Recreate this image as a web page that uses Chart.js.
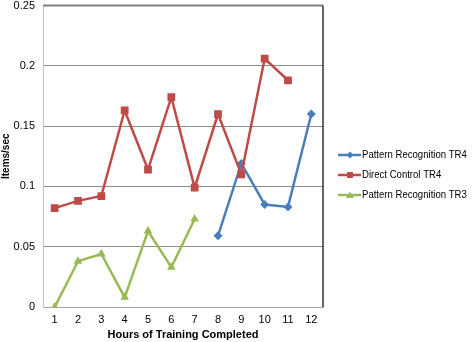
<!DOCTYPE html>
<html>
<head>
<meta charset="utf-8">
<script src="https://cdn.jsdelivr.net/npm/chart.js@4/dist/chart.umd.min.js"></script>
<style>
  html, body { margin: 0; padding: 0; background: #fff; }
  #wrap { width: 473px; height: 342px; position: relative; }
</style>
</head>
<body>
<div id="wrap"><canvas id="c"></canvas></div>
<script>
// data
const hours = ['1', '2', '3', '4', '5', '6', '7', '8', '9', '10', '11', '12'];
const patternTR4 = [null, null, null, null, null, null, null, 0.059, 0.119, 0.085, 0.083, 0.160];
const directTR4 = [0.082, 0.088, 0.092, 0.163, 0.114, 0.174, 0.099, 0.160, 0.110, 0.206, 0.188, null];
const patternTR3 = [0.000, 0.038, 0.044, 0.008, 0.063, 0.033, 0.073, null, null, null, null, null];
const seriesNames = ['Pattern Recognition TR4', 'Direct Control TR4', 'Pattern Recognition TR3'];

const FONT = '"Liberation Sans", Arial, sans-serif';
const BLUE = '#4a7ebb', RED = '#be4b48', GREEN = '#98b954';

// plot border + side legend
const frame = {
  id: 'frame',
  afterDatasetsDraw(chart) {
    const { ctx, chartArea: a } = chart;
    ctx.save();
    ctx.strokeStyle = '#808080';
    ctx.lineWidth = 2;
    ctx.beginPath();
    ctx.moveTo(a.left, a.top); ctx.lineTo(a.right, a.top);
    ctx.stroke();
    ctx.strokeStyle = '#333';
    ctx.lineWidth = 1.5;
    ctx.beginPath();
    ctx.moveTo(a.right, a.top); ctx.lineTo(a.right, a.bottom);
    ctx.stroke();
    ctx.restore();
  },
  afterDraw(chart) {
    const { ctx } = chart;
    ctx.save();
    ctx.font = '11px ' + FONT;
    ctx.textBaseline = 'middle';
    chart.data.datasets.forEach((ds, i) => {
      const y = 155 + i * 20;
      ctx.strokeStyle = ds.borderColor;
      ctx.lineWidth = 2.5;
      ctx.beginPath();
      ctx.moveTo(338, y); ctx.lineTo(361, y);
      ctx.stroke();
      ctx.fillStyle = ds.borderColor;
      const x = 350;
      ctx.beginPath();
      if (ds.pointStyle === 'rectRot') {
        ctx.moveTo(x, y - 3.5); ctx.lineTo(x + 3.5, y); ctx.lineTo(x, y + 3.5); ctx.lineTo(x - 3.5, y);
      } else if (ds.pointStyle === 'rect') {
        ctx.rect(x - 3, y - 3, 6, 6);
      } else {
        ctx.moveTo(x, y - 3.5); ctx.lineTo(x + 4, y + 3); ctx.lineTo(x - 4, y + 3);
      }
      ctx.closePath();
      ctx.fill();
      ctx.fillStyle = '#000';
      const w = ctx.measureText(ds.label).width * 0.87;
      ctx.fillText(ds.label, 362, y, w);
    });
    ctx.restore();
  }
};

new Chart(document.getElementById('c'), {
  type: 'line',
  data: {
    labels: hours,
    datasets: [
      { label: seriesNames[0], data: patternTR4, borderColor: BLUE, backgroundColor: BLUE,
        pointStyle: 'rectRot', pointRadius: 4.5, order: 3 },
      { label: seriesNames[1], data: directTR4, borderColor: RED, backgroundColor: RED,
        pointStyle: 'rect', pointRadius: 5.5, order: 2 },
      { label: seriesNames[2], data: patternTR3, borderColor: GREEN, backgroundColor: GREEN,
        pointStyle: 'triangle', pointRadius: 5, order: 1 }
    ]
  },
  options: {
    responsive: true,
    maintainAspectRatio: false,
    animation: false,
    datasets: { line: { borderWidth: 2.5, tension: 0, spanGaps: false, pointBorderWidth: 0 } },
    layout: { padding: { left: 0, right: 150, top: 0, bottom: 0 } },
    plugins: { legend: { display: false }, tooltip: { enabled: false } },
    scales: {
      x: {
        offset: true,
        grid: { display: false, drawTicks: false },
        border: { color: '#a6a6a6', width: 1 },
        ticks: { color: '#000', font: { family: FONT, size: 11 }, padding: 6 },
        title: { display: true, text: 'Hours of Training Completed', color: '#000',
                 font: { family: FONT, size: 11, weight: 'bold' }, padding: { top: 0, bottom: 0 } },
        afterFit(s) { s.height = 35; }
      },
      y: {
        min: 0, max: 0.25,
        ticks: { stepSize: 0.05, color: '#000', font: { family: FONT, size: 11 }, padding: 8,
                 callback: v => String(+v.toFixed(2)) },
        grid: { color: '#8c8c8c', drawTicks: false },
        border: { color: '#bfbfbf', width: 1 },
        title: { display: true, text: 'Items/sec', color: '#000',
                 font: { family: FONT, size: 10, weight: 'bold' }, padding: { top: 0, bottom: 2 } },
        afterFit(s) { s.width = 43; s.paddingTop = 4; s.paddingBottom = 0; }
      }
    }
  },
  plugins: [frame]
});
</script>
</body>
</html>
